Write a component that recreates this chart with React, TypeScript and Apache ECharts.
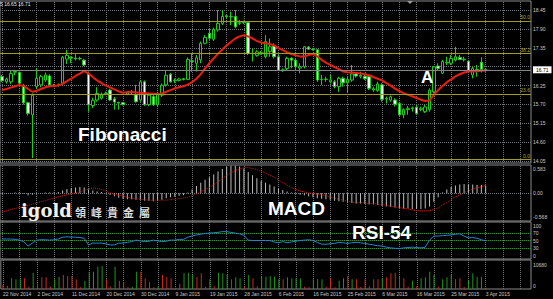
import { useEffect, useRef } from 'react';
import * as echarts from 'echarts';

const dateLabels = [
  '22 Nov 2014', '2 Dec 2014', '11 Dec 2014', '20 Dec 2014', '30 Dec 2014', '9 Jan 2015', '19 Jan 2015',
  '28 Jan 2015', '6 Feb 2015', '16 Feb 2015', '25 Feb 2015', '6 Mar 2015', '16 Mar 2015', '25 Mar 2015', '3 Apr 2015',
];

// [open, high, low, close]
const candles: number[][] = [
  [16.51, 16.56, 16.35, 16.39], [16.36, 16.48, 16.31, 16.44], [16.36, 16.68, 16.30, 16.60], [16.64, 16.70, 16.55, 16.66],
  [16.63, 16.66, 16.28, 16.32], [16.24, 16.30, 15.70, 15.75], [15.75, 15.78, 15.38, 15.44], [15.40, 16.02, 14.14, 15.97],
  [16.22, 16.75, 16.16, 16.46], [16.27, 16.56, 16.20, 16.51], [16.41, 16.63, 16.36, 16.56], [16.53, 16.58, 16.22, 16.27],
  [16.25, 16.30, 16.21, 16.26], [16.26, 16.31, 16.22, 16.27], [16.32, 17.11, 16.27, 17.07], [17.02, 17.29, 16.88, 17.13],
  [17.07, 17.10, 16.90, 17.05], [17.05, 17.17, 16.98, 17.03], [17.04, 17.09, 16.99, 17.03], [16.99, 17.03, 16.82, 16.85],
  [16.59, 16.66, 15.49, 15.69], [15.67, 15.90, 15.60, 15.82], [15.83, 16.20, 15.78, 16.02], [15.88, 16.05, 15.84, 16.00],
  [16.01, 16.07, 15.97, 16.03], [16.12, 16.16, 15.80, 15.83], [15.86, 15.92, 15.55, 15.77], [15.76, 15.78, 15.55, 15.74],
  [15.75, 15.77, 15.67, 15.70], [16.00, 16.08, 15.97, 16.04], [16.05, 16.12, 16.00, 16.07], [15.98, 16.27, 15.75, 15.78],
  [15.83, 16.41, 15.78, 16.36], [16.36, 16.40, 15.66, 15.70], [15.70, 16.02, 15.65, 15.97], [15.93, 15.97, 15.66, 15.69],
  [15.69, 16.07, 15.64, 16.02], [15.97, 16.31, 15.92, 16.26], [16.27, 16.68, 16.22, 16.55], [16.58, 16.62, 16.33, 16.36],
  [16.39, 16.46, 16.32, 16.41], [16.40, 16.48, 16.37, 16.44], [16.45, 16.47, 16.40, 16.43], [16.43, 17.07, 16.41, 17.01],
  [16.97, 17.17, 16.65, 16.95], [16.90, 17.14, 16.66, 17.06], [17.00, 17.53, 16.90, 17.48], [17.48, 17.72, 17.45, 17.65],
  [17.77, 17.92, 17.58, 17.63], [17.60, 17.94, 17.55, 17.89], [17.87, 18.45, 17.82, 18.06], [18.06, 18.45, 18.01, 18.26],
  [18.28, 18.30, 18.21, 18.26], [18.25, 18.40, 18.01, 18.26], [18.26, 18.45, 17.92, 17.96], [18.06, 18.16, 18.01, 18.08],
  [18.08, 18.14, 18.04, 18.10], [18.08, 18.11, 17.14, 17.19], [17.18, 17.33, 16.95, 17.19], [17.13, 17.28, 17.09, 17.23],
  [17.19, 17.26, 17.15, 17.21], [17.09, 17.72, 17.04, 17.53], [17.24, 17.62, 17.09, 17.38], [17.40, 17.48, 17.04, 17.09],
  [17.09, 17.14, 16.68, 16.70], [16.69, 16.75, 16.65, 16.71], [16.75, 17.09, 16.70, 17.04], [17.05, 17.07, 16.75, 16.99],
  [16.99, 17.04, 16.70, 16.80], [16.76, 16.90, 16.61, 16.80], [16.80, 17.40, 16.75, 17.38], [17.37, 17.40, 17.29, 17.31],
  [17.30, 17.33, 17.27, 17.31], [17.29, 17.31, 16.36, 16.41], [16.42, 16.56, 16.27, 16.43], [16.43, 16.51, 16.36, 16.44],
  [16.36, 16.56, 16.31, 16.41], [16.36, 16.41, 16.17, 16.22], [16.22, 16.51, 16.07, 16.46], [16.46, 16.51, 16.22, 16.33],
  [16.33, 16.51, 16.04, 16.43], [16.41, 16.85, 16.36, 16.59], [16.59, 16.62, 16.48, 16.53], [16.52, 16.65, 16.46, 16.55],
  [16.52, 16.56, 16.41, 16.45], [16.51, 16.56, 16.12, 16.17], [16.12, 16.22, 16.07, 16.16], [16.10, 16.36, 16.07, 16.30],
  [16.27, 16.32, 15.78, 15.85], [15.86, 15.93, 15.73, 15.88], [15.83, 15.96, 15.78, 15.92], [15.83, 15.88, 15.64, 15.71],
  [15.73, 15.78, 15.35, 15.40], [15.40, 15.59, 15.30, 15.55], [15.55, 15.66, 15.40, 15.59], [15.58, 15.64, 15.49, 15.60],
  [15.62, 15.69, 15.40, 15.44], [15.55, 15.64, 15.50, 15.59], [15.49, 15.69, 15.45, 15.63], [15.55, 16.17, 15.49, 16.12],
  [16.07, 16.82, 16.02, 16.80], [16.82, 16.90, 16.70, 16.75], [16.61, 17.00, 16.59, 16.95], [16.91, 17.09, 16.85, 16.93],
  [16.90, 17.14, 16.85, 17.04], [16.99, 17.38, 16.95, 17.09], [17.07, 17.14, 16.99, 17.01], [17.00, 17.09, 16.95, 17.02],
  [16.96, 16.99, 16.65, 16.67], [16.56, 16.80, 16.46, 16.75], [16.70, 16.85, 16.51, 16.72], [16.93, 17.07, 16.63, 16.72],
  [16.72, 16.75, 16.65, 16.71],
];

const maValues = [
  16.12, 16.15, 16.19, 16.23, 16.27, 16.24, 16.15, 16.07, 16.10, 16.15,
  16.20, 16.23, 16.24, 16.25, 16.30, 16.38, 16.45, 16.53, 16.60, 16.68,
  16.60, 16.50, 16.40, 16.32, 16.25, 16.20, 16.14, 16.08, 16.04, 16.06,
  16.06, 16.05, 16.04, 16.03, 16.02, 16.01, 16.00, 16.02, 16.07, 16.12,
  16.17, 16.20, 16.23, 16.28, 16.35, 16.45, 16.58, 16.75, 16.90, 17.04,
  17.18, 17.30, 17.42, 17.52, 17.62, 17.68, 17.72, 17.68, 17.62, 17.55,
  17.50, 17.48, 17.46, 17.42, 17.34, 17.28, 17.22, 17.17, 17.13, 17.10,
  17.10, 17.14, 17.17, 17.10, 17.00, 16.92, 16.85, 16.79, 16.73, 16.66,
  16.64, 16.63, 16.62, 16.60, 16.58, 16.55, 16.50, 16.45, 16.40, 16.32,
  16.25, 16.16, 16.09, 16.03, 15.98, 15.94, 15.89, 15.84, 15.80, 15.82,
  15.98, 16.12, 16.24, 16.35, 16.43, 16.52, 16.58, 16.63, 16.66, 16.66,
  16.67, 16.68, 16.69,
];

const macdHist = [
  -0.02, -0.01, 0.01, 0.02, 0.02, -0.01, -0.04, -0.03, -0.01, 0.01,
  0.02, 0.02, 0.02, 0.03, 0.06, 0.09, 0.11, 0.12, 0.13, 0.12,
  0.08, 0.06, 0.04, 0.03, 0.01, -0.03, -0.06, -0.09, -0.11, -0.12,
  -0.12, -0.13, -0.13, -0.15, -0.15, -0.16, -0.15, -0.13, -0.10, -0.08,
  -0.07, -0.05, -0.04, 0.02, 0.08, 0.15, 0.22, 0.28, 0.33, 0.39,
  0.45, 0.50, 0.54, 0.57, 0.57, 0.55, 0.51, 0.44, 0.37, 0.31,
  0.26, 0.22, 0.18, 0.14, 0.10, 0.07, 0.04, 0.02, -0.01, -0.03,
  -0.04, -0.06, -0.08, -0.10, -0.11, -0.12, -0.13, -0.15, -0.16, -0.17,
  -0.19, -0.20, -0.21, -0.21, -0.22, -0.23, -0.23, -0.24, -0.26, -0.27,
  -0.28, -0.29, -0.30, -0.31, -0.31, -0.32, -0.32, -0.32, -0.31, -0.27,
  -0.17, -0.08, 0.02, 0.08, 0.13, 0.16, 0.18, 0.19, 0.18, 0.18,
  0.17, 0.17, 0.16,
];

const macdSignal = [
  -0.38, -0.36, -0.33, -0.31, -0.29, -0.27, -0.25, -0.22, -0.20, -0.17,
  -0.15, -0.12, -0.10, -0.07, -0.05, -0.03, -0.01, 0.01, 0.03, 0.06,
  0.09, 0.11, 0.10, 0.08, 0.05, 0.01, -0.02, -0.04, -0.06, -0.08,
  -0.10, -0.11, -0.12, -0.13, -0.14, -0.14, -0.14, -0.14, -0.14, -0.13,
  -0.12, -0.11, -0.10, -0.08, -0.05, -0.01, 0.03, 0.08, 0.12, 0.18,
  0.24, 0.30, 0.37, 0.42, 0.47, 0.50, 0.53, 0.53, 0.51, 0.49,
  0.45, 0.42, 0.37, 0.33, 0.28, 0.22, 0.17, 0.12, 0.08, 0.05,
  0.03, 0.01, 0.00, -0.02, -0.03, -0.05, -0.07, -0.10, -0.12, -0.14,
  -0.16, -0.18, -0.19, -0.19, -0.20, -0.21, -0.21, -0.22, -0.23, -0.25,
  -0.26, -0.28, -0.29, -0.31, -0.32, -0.34, -0.35, -0.36, -0.36, -0.36,
  -0.33, -0.30, -0.24, -0.19, -0.13, -0.07, -0.03, 0.02, 0.05, 0.09,
  0.11, 0.14, 0.16,
];

const rsiValues = [
  54, 54, 54, 53, 51, 47, 35, 43, 51, 52,
  52, 51, 52, 54, 59, 60, 59, 59, 58, 56,
  38, 43, 43, 43, 41, 38, 38, 43, 43, 45,
  47, 51, 49, 47, 48, 51, 49, 47, 48, 51,
  51, 53, 53, 59, 62, 65, 67, 69, 70, 71,
  72, 74, 74, 72, 70, 68, 64, 51, 50, 50,
  50, 50, 50, 46, 44, 47, 44, 46, 48, 50,
  51, 52, 50, 45, 40, 40, 41, 42, 45, 44,
  42, 44, 45, 44, 42, 40, 38, 36, 35, 32,
  30, 29, 28, 30, 31, 32, 31, 30, 32, 51,
  62, 62, 63, 64, 65, 67, 68, 62, 57, 58,
  56, 52, 49,
];

const volumes = [
  1500, 1200, 3940, 3560, 3560, 3940, 800, 6020, 2000, 4300,
  4300, 800, 3560, 4540, 5160, 4790, 4790, 3560, 600, 2950,
  6380, 6380, 8170, 8490, 3560, 900, 8220, 2950, 2580, 600,
  800, 6380, 6380, 3940, 2580, 600, 900, 5160, 4540, 3940,
  500, 1960, 5770, 6020, 5160, 4540, 5770, 700, 3560, 1000,
  6020, 5770, 5160, 3560, 4300, 3940, 800, 5160, 3940, 1000,
  4540, 4540, 4790, 4540, 3560, 3560, 4300, 3940, 3940, 3940,
  900, 700, 3560, 3560, 3560, 800, 3940, 600, 3070, 3940,
  4790, 3560, 3560, 700, 3560, 1000, 3560, 3560, 3940, 4300,
  5770, 6020, 4540, 3940, 800, 3070, 1000, 3940, 4300, 6380,
  5160, 800, 3560, 4300, 5400, 3560, 3940, 700, 3070, 5770,
  4540, 4540, 200,
];

// G = volume up bar (green), R = volume down bar (red)
const volumeDir =
  'RRGGGRRGRR' + 'RRGGRRRRRG' + 'GGGGRRGRRR' + 'GGRRRRGRRR' + 'RRGGGRRRGR' + 'GGGRGGRGRR' +
  'GGGGGRGGGG' + 'RRGGGRRRGG' + 'RGRRRRRRGR' + 'RRRRRGRGGG' + 'GRGGGRRRGG' + 'GGR';

const priceTicks = [18.45, 17.9, 17.35, 16.8, 16.25, 15.7, 15.15, 14.6, 14.05];
const fibLabels = ['50.0', '38.2', '23.6', '0.0'];
const fibPrices = [18.13, 17.18, 16.01, 14.11];
const lastPrice = 16.71;
const macdTicks = [0.583, 0, -0.568];
const macdTickLabels = ['0.583', '0.00', '-0.568'];
const rsiTicks = [100, 70, 50, 30, 0];
const rsiLevels = [70, 50, 30];
const volumeTicks = [10680, 0];
const logoChars = ['領', '峰', '貴', '金', '屬'];

const SLOTS = 123; // bars plus the empty chart-shift area at the right
const FONT = 'Liberation Sans, Arial, sans-serif';
const LABEL_COLOR = '#c8c8c8';

export default function App() {
  const ref = useRef<HTMLDivElement>(null);

  useEffect(() => {
    const el = ref.current;
    if (!el) return;
    const chart = echarts.init(el, null, { renderer: 'svg' });

    const cats = Array.from({ length: SLOTS }, (_, i) => String(i));
    const vLines = cats.map((_, i) => i).filter((i) => i % 4 === 0).map((i) => ({ xAxis: i }));
    const dotted = { color: '#70757c', type: 'dotted' as const, width: 1 };

    const gridBox = (top: number, height: number) => ({
      left: 0, width: 531, top, height, show: true, borderColor: '#8a8a8a', borderWidth: 1,
    });

    const xAxis = (gridIndex: number, showLabels: boolean) => ({
      type: 'category', gridIndex, data: cats, boundaryGap: true,
      axisLine: { show: false }, axisTick: { show: false }, splitLine: { show: false },
      axisLabel: showLabels
        ? {
            interval: 7,
            formatter: (_v: string, i: number) => (i % 8 === 0 ? dateLabels[i / 8] ?? '' : ''),
            align: 'left', verticalAlign: 'top', fontSize: 5, fontFamily: FONT, color: LABEL_COLOR, margin: 2,
          }
        : { show: false },
    });

    const fontBase = { fontSize: 5, fontFamily: FONT, color: LABEL_COLOR };
    const edgeLabels = (
      values: number[], texts: string[], topPad: number, bottomPad: number, hide?: (v: number) => boolean,
    ) => ({
      ...fontBase,
      margin: 2,
      customValues: values,
      formatter: (v: number) => {
        if (hide && hide(v)) return '';
        const k = values.findIndex((x) => Math.abs(x - v) < 1e-9);
        const t = k >= 0 ? texts[k] : '';
        if (k === 0 && topPad) return `{t|${t}}`;
        if (k === values.length - 1 && bottomPad) return `{b|${t}}`;
        return t;
      },
      rich: {
        t: { ...fontBase, padding: [topPad, 0, 0, 0] },
        b: { ...fontBase, padding: [0, 0, bottomPad, 0] },
      },
    });

    const yAxis = (gridIndex: number, min: number, max: number, axisLabel: any) => ({
      type: 'value', gridIndex, position: 'right', min, max,
      splitLine: { show: false }, axisLine: { show: false },
      axisTick: { show: false, customValues: axisLabel.customValues },
      axisLabel,
    });

    const gridSeries = (idx: number, data: any[]) => ({
      type: 'line', xAxisIndex: idx, yAxisIndex: idx, data: [], z: 1, silent: true,
      markLine: { symbol: ['none', 'none'], silent: true, z: 1, animation: false, label: { show: false }, lineStyle: dotted, data },
    });

    const option: any = {
      animation: false,
      backgroundColor: '#000',
      grid: [gridBox(1, 162), gridBox(165, 56), gridBox(222, 37), gridBox(260, 29)],
      xAxis: [xAxis(0, false), xAxis(1, false), xAxis(2, false), xAxis(3, true)],
      yAxis: [
        yAxis(0, 13.997, 18.712, edgeLabels(priceTicks, priceTicks.map((v) => v.toFixed(2)), 0, 0,
          (v) => Math.abs(v - lastPrice) < 0.12)),
        yAxis(1, -0.568, 0.583, edgeLabels(macdTicks, macdTickLabels, 8, 8)),
        yAxis(2, 0, 100, edgeLabels(rsiTicks, rsiTicks.map(String), 8, 6)),
        yAxis(3, 0, 10680, edgeLabels(volumeTicks, volumeTicks.map(String), 10, 6)),
      ],
      series: [
        gridSeries(0, [...vLines, ...priceTicks.map((v) => ({ yAxis: v }))]),
        gridSeries(1, [...vLines, { yAxis: 0 }]),
        gridSeries(2, [
          ...vLines,
          ...rsiLevels.map((v) => ({ yAxis: v, lineStyle: { color: '#1f9a1f', type: 'dotted', width: 1 } })),
        ]),
        gridSeries(3, vLines),
        {
          type: 'candlestick', xAxisIndex: 0, yAxisIndex: 0, z: 3, barWidth: 3,
          data: candles.map(([o, h, l, c]) => [o, c, l, h]),
          itemStyle: { color: '#000', color0: '#ffffff', borderColor: '#1ccc1c', borderColor0: '#1ccc1c', borderWidth: 1 },
        },
        {
          type: 'line', xAxisIndex: 0, yAxisIndex: 0, z: 4, data: maValues, showSymbol: false, symbol: 'none',
          lineStyle: { color: '#ee1c10', width: 2 },
        },
        {
          type: 'line', xAxisIndex: 0, yAxisIndex: 0, data: [], z: 5, silent: true, clip: false,
          markLine: {
            symbol: ['none', 'none'], silent: true, animation: false,
            data: [
              ...fibPrices.map((p, i) => ({
                yAxis: p,
                lineStyle: { color: '#a09a1e', type: 'solid', width: 1 },
                label: { show: true, position: 'insideEndTop', formatter: fibLabels[i], color: '#b0a828', fontSize: 5, fontFamily: FONT, distance: 1 },
              })),
              {
                yAxis: lastPrice,
                lineStyle: { color: '#858585', type: 'solid', width: 1 },
                label: {
                  show: true, position: 'end', formatter: lastPrice.toFixed(2), backgroundColor: '#ffffff', color: '#000',
                  padding: [1, 3], fontSize: 5, fontFamily: FONT, distance: 2,
                },
              },
            ],
          },
        },
        {
          type: 'bar', xAxisIndex: 1, yAxisIndex: 1, data: macdHist, barWidth: 1, z: 2,
          itemStyle: { color: '#bdbdbd' },
        },
        {
          type: 'line', xAxisIndex: 1, yAxisIndex: 1, data: macdSignal, showSymbol: false, symbol: 'none', z: 3,
          lineStyle: { color: '#d81818', width: 1, type: 'dotted' },
        },
        {
          type: 'line', xAxisIndex: 2, yAxisIndex: 2, data: rsiValues, showSymbol: false, symbol: 'none', z: 3,
          lineStyle: { color: '#2b82d0', width: 1 },
        },
        {
          type: 'bar', xAxisIndex: 3, yAxisIndex: 3, barWidth: 1, z: 2,
          data: volumes.map((v, i) => ({ value: v, itemStyle: { color: volumeDir[i] === 'G' ? '#1f941f' : '#cc2a1e' } })),
        },
      ],
      graphic: {
        elements: [
          { type: 'text', x: 0, y: 4, z: 100, style: { text: '5 16.65 16.71', fill: '#e8e8e8', fontSize: 5, fontFamily: FONT, verticalAlign: 'middle' } },
          { type: 'polygon', z: 100, shape: { points: [[407, 1], [413, 1], [410, 4]] }, style: { fill: '#9a9a9a' } },
          { type: 'text', x: 78, y: 134, z: 100, style: { text: 'Fibonacci', fill: '#ffffff', fontSize: 19, fontWeight: 'bold', fontFamily: FONT, verticalAlign: 'middle' } },
          { type: 'text', x: 421, y: 77, z: 100, style: { text: 'A', fill: '#ffffff', fontSize: 17, fontWeight: 'bold', fontFamily: FONT, verticalAlign: 'middle' } },
          { type: 'text', x: 268, y: 208, z: 100, style: { text: 'MACD', fill: '#ffffff', fontSize: 19, fontWeight: 'bold', fontFamily: FONT, verticalAlign: 'middle' } },
          { type: 'text', x: 352, y: 232.5, z: 100, style: { text: 'RSI-54', fill: '#ffffff', fontSize: 19, fontWeight: 'bold', fontFamily: FONT, verticalAlign: 'middle' } },
          { type: 'text', x: 21, y: 210, z: 100, style: { text: 'igold', fill: '#f4efe2', fontSize: 18, fontWeight: 'bold', fontFamily: 'DejaVu Serif, serif', verticalAlign: 'middle' } },
          ...logoChars.map((ch, i) => ({
            type: 'text', x: 75 + i * 16, y: 212, z: 100,
            style: { text: ch, fill: '#dcdcdc', fontSize: 11, fontWeight: 'bold', fontFamily: 'Noto Sans CJK TC, sans-serif', verticalAlign: 'middle' },
          })),
        ],
      },
    };

    chart.setOption(option);
    return () => chart.dispose();
  }, []);

  return (
    <div
      ref={ref}
      style={{ position: 'absolute', left: 0, top: 0, width: 553, height: 299, background: '#000' }}
    />
  );
}
